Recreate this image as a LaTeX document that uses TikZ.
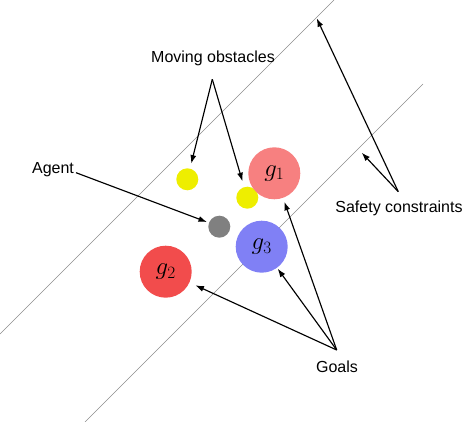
\documentclass[tikz,border=0pt]{standalone}
\usepackage{fontspec}
\setsansfont{Liberation Sans}
\usetikzlibrary{arrows.meta}
\definecolor{gone}{HTML}{F78080}
\definecolor{gtwo}{HTML}{F24C4C}
\definecolor{gthree}{HTML}{8080F5}
\definecolor{obst}{HTML}{EEEE00}
\definecolor{agentc}{HTML}{808080}
\definecolor{linec}{HTML}{8C8C8C}
\tikzset{
  lbl/.style={font=\sffamily\fontsize{16}{19}\selectfont, inner sep=0pt},
  ball/.style={circle, inner sep=0pt, minimum size=#1},
  goal/.style={ball=52pt, font=\fontsize{27}{30}\selectfont},
  ptr/.style={-{Latex[length=8.5pt,width=6pt]}, line width=1.15pt, black},
  bound/.style={linec, line width=0.6pt}
}
\begin{document}
\begin{tikzpicture}[x=1pt,y=-1pt]
\useasboundingbox (0,0) rectangle (464,422);
% safety constraint lines
\coordinate (l1a) at (0,334);
\coordinate (l1b) at (334,0);
\coordinate (l2a) at (85,422);
\coordinate (l2b) at (423,84);
\draw[bound] (l1a) -- (l1b);
\draw[bound] (l2a) -- (l2b);
% circles
\node[ball=22pt, fill=obst] (y1) at (187.3,179.3) {};
\node[ball=22pt, fill=obst] (y2) at (247.3,197.7) {};
\node[goal, fill=gone] (g1) at (274.3,173.3) {$g_1$};
\node[ball=22pt, fill=agentc] (ag) at (219.3,226.7) {};
\node[goal, fill=gthree] (g3) at (261.7,246.7) {$g_3$};
\node[goal, fill=gtwo] (g2) at (165.7,271.7) {$g_2$};
% labels
\node[lbl] (mo) at (213,58) {Moving obstacles};
\node[lbl] (agl) at (53,170) {Agent};
\node[lbl] (sc) at (399,208) {Safety constraints};
\node[lbl] (gl) at (337,367) {Goals};
% apex coordinates
\coordinate (moa) at (212.3,79.3);
\coordinate (aga) at (76,172.7);
\coordinate (sca) at (398.3,191.7);
\coordinate (gla) at (336.7,350);
\coordinate (c1) at (316.7,18.3);
\coordinate (c2) at (361.7,152.7);
% arrows
\draw[ptr, shorten >=5pt] (moa) -- (y1);
\draw[ptr, shorten >=6pt] (moa) -- (y2);
\draw[ptr, shorten >=2pt] (aga) -- (ag);
\draw[ptr] (sca) -- (c1);
\draw[ptr] (sca) -- (c2);
\draw[ptr, shorten >=6.5pt] (gla) -- (g2);
\draw[ptr, shorten >=1pt] (gla) -- (g3);
\draw[ptr, shorten >=4pt] (gla) -- (g1);
\end{tikzpicture}
\end{document}
